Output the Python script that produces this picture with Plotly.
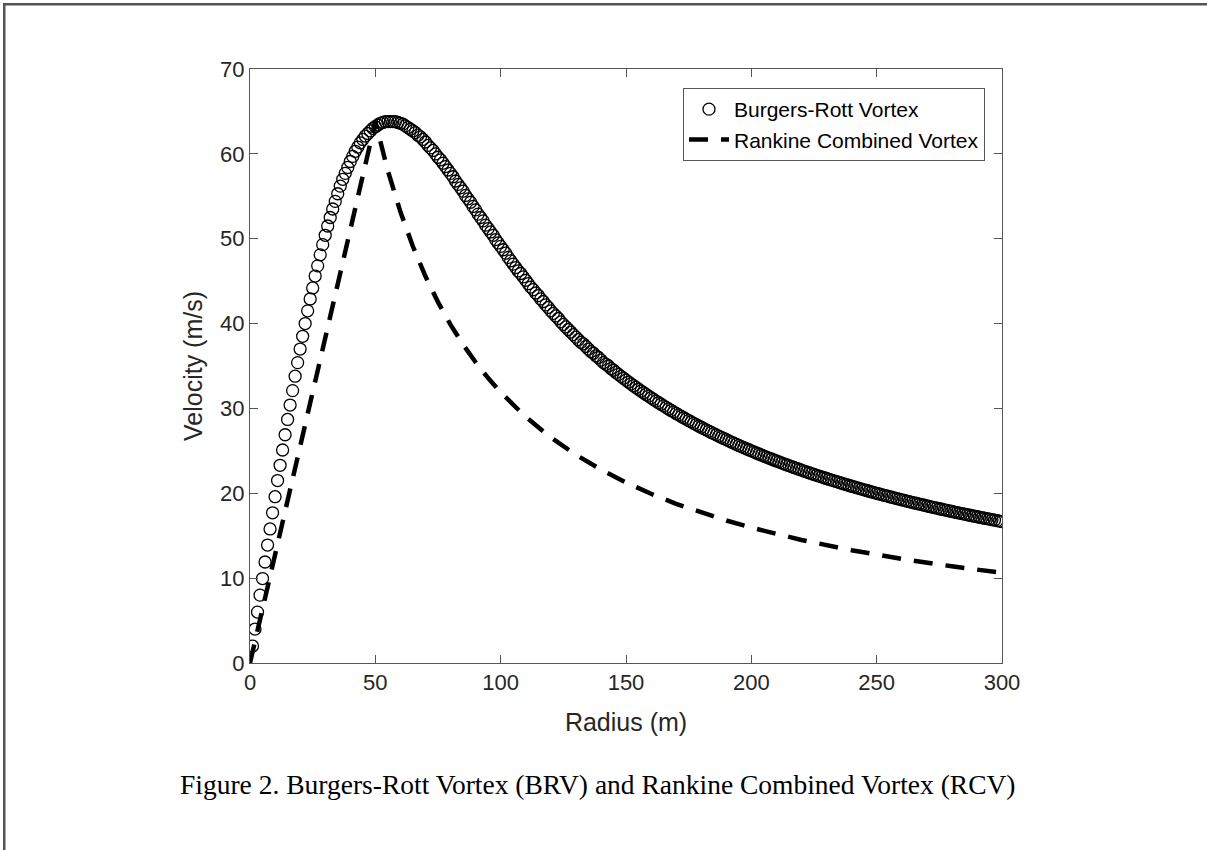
import plotly.graph_objects as go

# Burgers-Rott vortex: radius (m) 1..300, tangential velocity (m/s)
brv_radius = list(range(1, 301))
brv_velocity = [
    2.0, 4.0, 6.0, 8.0, 9.95, 11.9, 13.9, 15.8, 17.7, 19.6,
    21.5, 23.3, 25.1, 26.9, 28.7, 30.4, 32.1, 33.8, 35.4, 37.0,
    38.5, 40.0, 41.5, 42.9, 44.2, 45.6, 46.8, 48.1, 49.3, 50.4,
    51.5, 52.5, 53.5, 54.4, 55.3, 56.2, 57.0, 57.7, 58.4, 59.1,
    59.7, 60.3, 60.8, 61.3, 61.7, 62.1, 62.4, 62.7, 63.0, 63.2,
    63.4, 63.6, 63.7, 63.8, 63.8, 63.8, 63.8, 63.8, 63.7, 63.6,
    63.5, 63.3, 63.1, 62.9, 62.7, 62.5, 62.2, 62.0, 61.7, 61.4,
    61.0, 60.7, 60.4, 60.0, 59.6, 59.3, 58.9, 58.5, 58.1, 57.7,
    57.3, 56.8, 56.4, 56.0, 55.6, 55.1, 54.7, 54.3, 53.8, 53.4,
    52.9, 52.5, 52.1, 51.6, 51.2, 50.8, 50.4, 49.9, 49.5, 49.1,
    48.7, 48.3, 47.8, 47.4, 47.0, 46.6, 46.2, 45.9, 45.5, 45.1,
    44.7, 44.3, 44.0, 43.6, 43.3, 42.9, 42.6, 42.2, 41.9, 41.5,
    41.2, 40.9, 40.6, 40.2, 39.9, 39.6, 39.3, 39.0, 38.7, 38.4,
    38.1, 37.8, 37.6, 37.3, 37.0, 36.7, 36.5, 36.2, 36.0, 35.7,
    35.4, 35.2, 35.0, 34.7, 34.5, 34.24, 34.01, 33.78, 33.56, 33.33,
    33.11, 32.89, 32.68, 32.47, 32.26, 32.05, 31.85, 31.65, 31.45, 31.25,
    31.06, 30.86, 30.67, 30.49, 30.30, 30.12, 29.94, 29.76, 29.59, 29.41,
    29.24, 29.07, 28.90, 28.74, 28.57, 28.41, 28.25, 28.09, 27.93, 27.78,
    27.62, 27.47, 27.32, 27.17, 27.03, 26.88, 26.74, 26.60, 26.46, 26.32,
    26.18, 26.04, 25.91, 25.77, 25.64, 25.51, 25.38, 25.25, 25.13, 25.00,
    24.88, 24.75, 24.63, 24.51, 24.39, 24.27, 24.15, 24.04, 23.92, 23.81,
    23.70, 23.58, 23.47, 23.36, 23.26, 23.15, 23.04, 22.94, 22.83, 22.73,
    22.62, 22.52, 22.42, 22.32, 22.22, 22.12, 22.03, 21.93, 21.83, 21.74,
    21.65, 21.55, 21.46, 21.37, 21.28, 21.19, 21.10, 21.01, 20.92, 20.83,
    20.75, 20.66, 20.58, 20.49, 20.41, 20.33, 20.24, 20.16, 20.08, 20.00,
    19.92, 19.84, 19.76, 19.69, 19.61, 19.53, 19.46, 19.38, 19.31, 19.23,
    19.16, 19.08, 19.01, 18.94, 18.87, 18.80, 18.73, 18.66, 18.59, 18.52,
    18.45, 18.38, 18.32, 18.25, 18.18, 18.12, 18.05, 17.99, 17.92, 17.86,
    17.79, 17.73, 17.67, 17.61, 17.54, 17.48, 17.42, 17.36, 17.30, 17.24,
    17.18, 17.12, 17.06, 17.01, 16.95, 16.89, 16.84, 16.78, 16.72, 16.67,
]

# Rankine combined vortex: radius (m), velocity (m/s)
rcv_radius = [0, 50, 55, 60, 65, 70, 75, 80, 85, 90, 95, 100, 110, 120, 130,
              140, 150, 160, 170, 180, 190, 200, 220, 240, 260, 280, 300]
rcv_velocity = [0.0, 63.8, 58.0, 53.17, 49.08, 45.57, 42.53, 39.88, 37.53, 35.44,
                33.58, 31.9, 29.0, 26.58, 24.54, 22.79, 21.27, 19.94, 18.76,
                17.72, 16.79, 15.95, 14.5, 13.29, 12.27, 11.39, 10.63]

x_ticks = [0, 50, 100, 150, 200, 250, 300]
y_ticks = [0, 10, 20, 30, 40, 50, 60, 70]

AX = "#555555"
TXT = "#262626"
SANS = "Liberation Sans, Arial, sans-serif"

fig = go.Figure()
fig.add_trace(go.Scatter(
    x=brv_radius, y=brv_velocity, mode="markers", name="Burgers-Rott Vortex",
    marker=dict(symbol="circle-open", size=12, color="black", line=dict(width=1.3)),
))
fig.add_trace(go.Scatter(
    x=rcv_radius, y=rcv_velocity, mode="lines", name="Rankine Combined Vortex",
    line=dict(color="black", width=4.5, dash="19px,13px"),
))

W, H = 1207, 850
L, R, T, B = 250, 205, 69, 187
pw, ph = W - L - R, H - T - B

def px_x(p):
    return (p - L) / pw

def px_y(p):
    return (H - B - p) / ph

axis_common = dict(
    showline=True, linecolor=AX, linewidth=1, mirror="ticks",
    ticks="inside", ticklen=8, tickcolor=AX, tickwidth=1,
    showgrid=False, zeroline=False,
    tickfont=dict(family=SANS, size=22, color=TXT),
)

frame = dict(type="rect", xref="paper", yref="paper", layer="below",
             fillcolor="#555555", line=dict(width=0))

fig.update_layout(
    width=W, height=H,
    margin=dict(l=L, r=R, t=T, b=B, pad=0),
    paper_bgcolor="white", plot_bgcolor="white",
    font=dict(family=SANS, color=TXT),
    xaxis=dict(range=[0, 300], tickvals=x_ticks,
               title=dict(text="Radius (m)", font=dict(family=SANS, size=25, color=TXT), standoff=19),
               **axis_common),
    yaxis=dict(range=[0, 70], tickvals=y_ticks,
               title=dict(text="Velocity (m/s)", font=dict(family=SANS, size=25, color=TXT), standoff=10),
               **axis_common),
    legend=dict(
        x=px_x(683), y=px_y(88), xanchor="left", yanchor="top",
        bgcolor="white", bordercolor=AX, borderwidth=1,
        font=dict(family=SANS, size=21, color="black"),
        itemwidth=40, tracegroupgap=0,
    ),
    showlegend=True,
    annotations=[dict(
        text="Figure 2. Burgers-Rott Vortex (BRV) and Rankine Combined Vortex (RCV)",
        xref="paper", yref="paper", x=px_x(598), y=px_y(784),
        xanchor="center", yanchor="middle", showarrow=False,
        font=dict(family="Liberation Serif, Times New Roman, serif", size=27.5, color="black"),
    )],
    shapes=[
        dict(frame, x0=px_x(3), x1=px_x(1207), y0=px_y(3), y1=px_y(5.5)),
        dict(frame, x0=px_x(3), x1=px_x(5.5), y0=px_y(3), y1=px_y(850)),
    ],
)

fig.write_html("out.html", config={"displayModeBar": False})
